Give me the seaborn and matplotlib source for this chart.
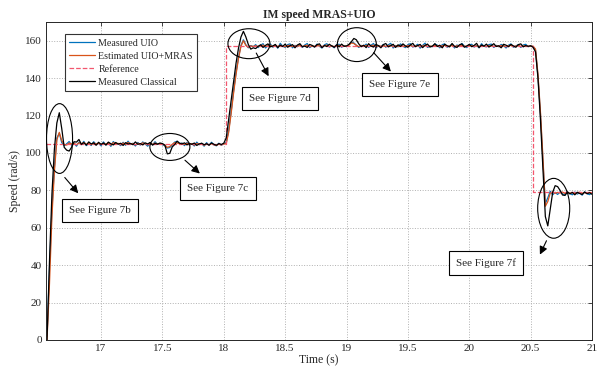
import numpy as np
import pandas as pd
import matplotlib
matplotlib.use('Agg')
import matplotlib.pyplot as plt
from matplotlib.patches import Ellipse
from matplotlib.ticker import FormatStrFormatter
import seaborn as sns

# sampling grid of the measured signals (s)
t = np.round(np.arange(16.56, 21.001, 0.02), 2)

# Measured UIO speed (rad/s)
measured_uio = [
    2, 38, 70, 92, 108, 110.5, 105.5,
    103.8, 104.9, 106.1, 104.2, 105.3, 103.6, 105.8, 104.4, 106.2, 103.9, 105.1, 104.0, 106.0, 104.6, 105.2,
    103.8, 105.9, 104.3, 105.4, 103.5, 106.1, 104.7, 105.0, 103.9, 105.7, 104.1, 106.3, 104.5, 105.2, 103.7,
    105.6, 104.2, 105.9, 104.8, 103.6, 105.4, 104.3, 106.0, 104.6, 105.1,
    104.4, 103.8, 102.6, 102.9, 104.2, 105.8, 106.2, 104.9,
    105.3, 103.9, 105.6, 104.2, 105.0, 103.7, 105.8, 104.4, 105.1, 103.6, 105.5, 104.0, 105.7, 104.3, 103.8,
    105.2, 104.1, 105.0,
    105.5, 112, 122, 133, 143, 151, 157.5, 160.5, 157.8, 156.2, 157.4, 156.8,
    157.9, 156.3, 157.6, 158.4, 156.1, 157.3, 158.2, 156.5, 157.8, 156.0, 158.6, 157.1, 156.4, 157.9, 158.3,
    156.2, 157.5, 156.8, 158.1, 156.4, 157.7, 158.5, 156.3, 157.2, 156.7, 158.2, 157.0, 156.1, 157.8, 158.4,
    156.6, 157.3, 156.2, 157.9, 158.1, 156.5, 157.4,
    156.8, 157.9, 159.3, 158.8, 157.6, 156.4, 157.5,
    156.9, 158.2, 156.4, 157.6, 158.5, 156.2, 157.3, 156.8, 158.0, 156.5,
    157.8, 158.6, 156.1, 157.4, 156.7, 158.3, 157.0, 156.3, 157.9, 158.4,
    156.6, 157.2, 158.1, 156.0, 157.5, 158.7, 156.4, 157.1, 156.8, 158.2,
    157.6, 156.2, 157.9, 158.3, 156.5, 157.3, 158.0, 156.1, 157.7, 156.9,
    158.5, 157.2, 156.3, 157.8, 158.1, 156.6, 157.4, 156.2, 158.4, 157.0,
    156.7, 157.9, 158.2, 156.4, 157.5, 156.8, 158.0, 157.3, 156.1, 157.6,
    158.3, 156.5, 157.2, 157.9, 156.4, 157.7, 158.1, 156.8,
    157.2, 156.8, 155, 141, 121, 96, 73, 76, 79.5, 77.6, 78.9, 77.8, 79.2, 78.1, 77.5, 79.0, 78.3, 77.6,
    79.1, 78.0, 78.7, 77.4, 79.2, 78.2, 77.7, 78.8,
]

# Estimated UIO+MRAS speed (rad/s)
estimated_mras = [
    0, 30, 66, 90, 107, 111, 106.5,
    104.5, 104.2, 105.3, 104.8, 105.1, 104.3, 105.4, 104.9, 105.6, 104.6, 105.0, 104.4, 105.3, 104.8, 105.1,
    104.5, 105.2, 104.7, 105.4, 104.2, 105.5, 104.9, 105.1, 104.4, 105.3, 104.6, 105.6, 104.8, 105.0, 104.3,
    105.2, 104.7, 105.4, 104.9, 104.4, 105.1, 104.6, 105.3, 104.8, 105.0,
    104.7, 104.2, 103.0, 103.4, 104.6, 105.5, 105.3, 104.9,
    105.1, 104.5, 105.2, 104.6, 104.9, 104.2, 105.0, 104.7, 104.9, 104.1, 104.8, 104.3, 104.9, 104.4, 104.0,
    104.7, 104.3, 104.8,
    105, 111, 121, 132, 142, 150.5, 157, 160, 157.5, 156.5, 157.2, 156.9,
    157.3, 156.8, 157.4, 157.6, 156.9, 157.2, 157.5, 156.8, 157.4, 156.9, 157.6, 157.1, 156.8, 157.4, 157.5,
    156.9, 157.2, 157.0, 157.5, 156.8, 157.3, 157.6, 156.9, 157.1, 157.0, 157.5, 157.2, 156.8, 157.4, 157.6,
    156.9, 157.2, 156.8, 157.4, 157.5, 156.9, 157.2,
    157.0, 157.6, 158.8, 158.5, 157.5, 156.8, 157.3,
    157.1, 157.5, 156.9, 157.3, 157.6, 156.8, 157.2, 157.0, 157.4, 156.9,
    157.3, 157.6, 156.8, 157.2, 157.0, 157.5, 157.1, 156.9, 157.4, 157.5,
    156.9, 157.2, 157.4, 156.8, 157.2, 157.6, 156.9, 157.1, 157.0, 157.4,
    157.3, 156.8, 157.3, 157.5, 156.9, 157.2, 157.4, 156.8, 157.3, 157.0,
    157.5, 157.1, 156.9, 157.3, 157.4, 156.9, 157.2, 156.8, 157.5, 157.1,
    157.0, 157.3, 157.4, 156.9, 157.2, 157.0, 157.4, 157.2, 156.8, 157.3,
    157.5, 156.9, 157.1, 157.4, 156.9, 157.2, 157.3, 157.0,
    157.0, 157.1, 155.5, 142, 122, 98, 71.5, 74, 78.5, 79.2, 78.4, 78.9, 78.6, 79.1, 78.3, 78.8, 78.5, 78.9,
    78.2, 78.7, 79.0, 78.4, 78.8, 78.5, 78.9, 78.6,
]

# Measured speed with the classical scheme (rad/s)
measured_classical = [
    0, 42, 78, 102, 116, 121.5, 113,
    103, 101.5, 101, 103, 106, 105.8, 107.2, 104.6, 105.5, 104.2, 105.9, 104.8, 105.4, 104.1, 105.7,
    104.6, 105.3, 104.2, 105.8, 104.9, 104.3, 105.6, 104.7, 105.2, 104.0, 105.5, 104.8, 105.1, 104.4, 105.9,
    104.6, 105.0, 104.3, 105.4, 104.8, 105.6, 104.2, 105.1, 104.7, 105.3,
    105.0, 104.2, 99.5, 99.8, 103.2, 104.5, 106.3, 105.2,
    104.8, 105.4, 104.3, 105.1, 104.6, 105.3, 104.0, 104.8, 105.2, 104.4, 104.9, 104.2, 105.3, 104.6, 104.1,
    105.0, 104.5, 105.2,
    108, 118, 128, 138, 148, 156, 162, 165, 162, 158, 155.5, 156.2,
    155.8, 157.0, 157.8, 156.4, 157.5, 158.3, 156.7, 157.2, 158.0, 156.3, 157.6, 156.9, 158.2, 156.5, 157.3,
    157.9, 156.2, 157.7, 158.4, 156.8, 157.1, 156.4, 158.0, 157.5, 156.6, 157.9, 158.3, 156.3, 157.4, 156.9,
    158.1, 157.2, 156.5, 157.8, 156.7, 158.2, 157.0,
    157.2, 158.0, 159.5, 161.2, 160.5, 158.3, 156.8,
    157.6, 156.3, 158.4, 157.1, 156.6, 158.0, 157.4, 156.2, 157.9, 158.5,
    156.7, 157.3, 158.1, 156.4, 157.8, 156.9, 158.3, 157.2, 156.5, 157.7,
    158.6, 156.8, 157.4, 158.0, 156.3, 157.5, 158.2, 156.6, 157.1, 158.4,
    156.9, 157.6, 156.2, 158.1, 157.3, 156.7, 158.5, 157.0, 156.4, 157.8,
    158.3, 156.5, 157.2, 158.0, 156.8, 157.5, 158.6, 156.3, 157.7, 157.1,
    158.2, 156.6, 157.4, 158.4, 156.9, 157.3, 156.2, 158.1, 157.6, 156.8,
    158.0, 157.2, 156.5, 157.9, 158.3, 156.7, 157.4, 157.0,
    157.3, 156.5, 154, 140, 118, 92, 66, 61, 70, 79, 82.5, 82, 80, 77.5, 77.3, 79.2, 78.1, 78.9, 77.6,
    79.0, 78.3, 77.8, 79.1, 78.2, 78.7, 77.9,
]

# speed reference (step profile)
t_ref = [16.55, 18.02, 18.02, 20.52, 20.52, 21.0]
reference = [105, 105, 157, 157, 79, 79]

assert len(t) == len(measured_uio) == len(estimated_mras) == len(measured_classical)

df = pd.DataFrame({'t': t, 'uio': measured_uio, 'mras': estimated_mras,
                   'classical': measured_classical})
ref_df = pd.DataFrame({'t': t_ref, 'ref': reference})

sns.set_style('white')
plt.rcParams['font.family'] = ['Liberation Serif', 'DejaVu Serif']

fig = plt.figure(figsize=(6.01, 3.69), dpi=100)
ax = fig.add_axes([0.0762, 0.0786, 0.9088, 0.8618])

sns.lineplot(data=df, x='t', y='uio', ax=ax, color='#0072BD', linewidth=0.9,
             estimator=None, sort=False, label='Measured UIO')
sns.lineplot(data=df, x='t', y='mras', ax=ax, color='#D95319', linewidth=0.9,
             estimator=None, sort=False, label='Estimated UIO+MRAS')
sns.lineplot(data=ref_df, x='t', y='ref', ax=ax, color='#F2576E', linewidth=0.9,
             linestyle='--', estimator=None, sort=False, label='Reference')
sns.lineplot(data=df, x='t', y='classical', ax=ax, color='black', linewidth=0.9,
             estimator=None, sort=False, label='Measured Classical')

ax.set_xlim(16.55, 21)
ax.set_ylim(0, 170)
ax.set_xticks([17, 17.5, 18, 18.5, 19, 19.5, 20, 20.5, 21])
ax.set_yticks(range(0, 161, 20))
ax.xaxis.set_major_formatter(FormatStrFormatter('%g'))
ax.grid(True, linestyle=':', color='#b0b0b0', linewidth=0.7)
ax.tick_params(direction='in', length=3, width=0.6, labelsize=8, top=True, right=True,
               colors='#262626', pad=3)
for s in ax.spines.values():
    s.set_color('#262626')
    s.set_linewidth(0.7)

ax.set_title('IM speed MRAS+UIO', fontsize=8.5, fontweight='bold', pad=3)
ax.set_xlabel('Time (s)', fontsize=8.5, labelpad=1)
ax.set_ylabel('Speed (rad/s)', fontsize=8.5, labelpad=3)

leg = ax.legend(loc='upper left', bbox_to_anchor=(0.035, 0.962), borderaxespad=0,
                fontsize=7.2, frameon=True, fancybox=False, framealpha=1,
                handlelength=2.6, labelspacing=0.4, borderpad=0.45, handletextpad=0.3)
leg.get_frame().set_edgecolor('#333333')
leg.get_frame().set_linewidth(0.8)

# callouts: ellipse, arrow, text box
box = dict(boxstyle='square,pad=0.65', fc='white', ec='black', lw=0.8)
arrow = dict(arrowstyle='-|>', color='black', lw=0.8, mutation_scale=12)
callouts = [
    ((16.662, 107.7), 0.212, 37.3, (16.69, 88), (16.829, 77.3), (16.991, 69.3), 'See Figure 7b'),
    ((17.561, 103.2), 0.326, 14.4, (17.667, 97.1), (17.822, 88.0), (17.953, 81.1), 'See Figure 7c'),
    ((18.205, 158.4), 0.342, 16.0, (18.254, 154.7), (18.376, 139.7), (18.457, 129.1), 'See Figure 7d'),
    ((19.084, 157.9), 0.318, 18.1, (19.206, 154.7), (19.377, 142.4), (19.434, 136.5), 'See Figure 7e'),
    ((20.688, 70.4), 0.261, 32.0, (20.639, 54.4), (20.566, 44.3), (20.136, 41.1), 'See Figure 7f'),
]
for c, w, h, a0, a1, tp, txt in callouts:
    ax.add_patch(Ellipse(c, w, h, fill=False, edgecolor='black', lw=0.8, zorder=5))
    ax.annotate('', xy=a1, xytext=a0, arrowprops=arrow, zorder=5)
    ax.text(tp[0], tp[1], txt, fontsize=8, ha='center', va='center', bbox=box, zorder=6)

plt.savefig('out.png', dpi=100)
